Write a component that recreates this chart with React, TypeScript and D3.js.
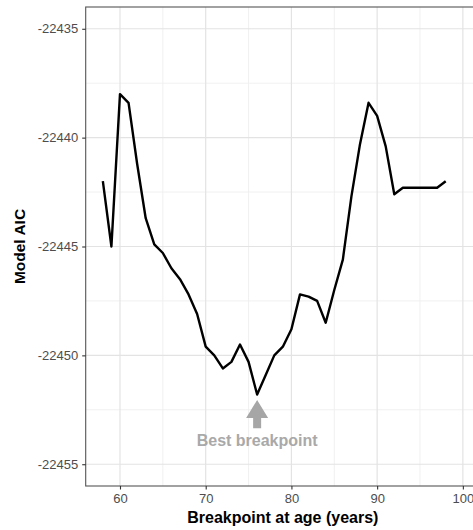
import React, { useRef, useEffect } from 'react';
import * as d3 from 'd3';

// Breakpoint ages tested and the model AIC at each one
const AGES = [
  58, 59, 60, 61, 62, 63, 64, 65, 66, 67, 68, 69, 70, 71, 72, 73, 74, 75, 76, 77,
  78, 79, 80, 81, 82, 83, 84, 85, 86, 87, 88, 89, 90, 91, 92, 93, 94, 95, 96, 97, 98,
];
const AIC = [
  -22442.0, -22445.0, -22438.0, -22438.4, -22441.2, -22443.7, -22444.9, -22445.3,
  -22446.0, -22446.5, -22447.2, -22448.1, -22449.6, -22450.0, -22450.6, -22450.3,
  -22449.5, -22450.3, -22451.8, -22450.9, -22450.0, -22449.6, -22448.8, -22447.2,
  -22447.3, -22447.5, -22448.5, -22447.0, -22445.6, -22442.7, -22440.3, -22438.4,
  -22439.0, -22440.4, -22442.6, -22442.3, -22442.3, -22442.3, -22442.3, -22442.3,
  -22442.0,
];

const X_TICKS = [60, 70, 80, 90, 100];
const X_MINOR = [65, 75, 85, 95];
const Y_TICKS = [-22435, -22440, -22445, -22450, -22455];
const Y_MINOR = [-22437.5, -22442.5, -22447.5, -22452.5];

// annotation: arrow from (76, -22453.35) up to (76, -22452.05), label below
const BEST_AGE = 76;
const ARROW_FROM = -22453.35;
const ARROW_TO = -22452.05;
const LABEL_AT = -22453.9;

const W = 473;
const H = 530;
const FONT = '"Liberation Sans", Arial, sans-serif';

export default function App() {
  const svgRef = useRef<SVGSVGElement | null>(null);

  useEffect(() => {
    if (!svgRef.current) return;
    const svg = d3.select(svgRef.current);
    svg.selectAll('*').remove();

    const panel = { left: 85.7, top: 7, right: 480, bottom: 486 };
    const x = d3.scaleLinear().domain([56, 102]).range([panel.left, panel.right]);
    const y = d3.scaleLinear().domain([-22456, -22434]).range([panel.bottom, panel.top]);

    // background + grid
    svg.append('rect')
      .attr('x', panel.left).attr('y', panel.top)
      .attr('width', panel.right - panel.left).attr('height', panel.bottom - panel.top)
      .attr('fill', 'white');

    const grid = svg.append('g');
    X_MINOR.forEach(v => {
      grid.append('line')
        .attr('x1', x(v)).attr('x2', x(v)).attr('y1', panel.top).attr('y2', panel.bottom)
        .attr('stroke', '#eeeeee').attr('stroke-width', 0.9);
    });
    Y_MINOR.forEach(v => {
      grid.append('line')
        .attr('x1', panel.left).attr('x2', panel.right).attr('y1', y(v)).attr('y2', y(v))
        .attr('stroke', '#eeeeee').attr('stroke-width', 0.9);
    });
    X_TICKS.forEach(v => {
      grid.append('line')
        .attr('x1', x(v)).attr('x2', x(v)).attr('y1', panel.top).attr('y2', panel.bottom)
        .attr('stroke', '#e3e3e3').attr('stroke-width', 1.2);
    });
    Y_TICKS.forEach(v => {
      grid.append('line')
        .attr('x1', panel.left).attr('x2', panel.right).attr('y1', y(v)).attr('y2', y(v))
        .attr('stroke', '#e3e3e3').attr('stroke-width', 1.2);
    });

    // the AIC curve
    const pts: [number, number][] = AGES.map((a, i) => [a, AIC[i]]);
    const line = d3.line<[number, number]>()
      .x(d => x(d[0]))
      .y(d => y(d[1]));
    svg.append('path')
      .datum(pts)
      .attr('d', line)
      .attr('fill', 'none')
      .attr('stroke', '#000')
      .attr('stroke-width', 2.4)
      .attr('stroke-linejoin', 'round');

    // arrow annotation
    const ax = x(BEST_AGE);
    const tipY = y(ARROW_TO);
    const baseY = y(ARROW_FROM);
    const headLen = 18;
    const headHalf = 11;
    const shaftHalf = 4;
    const arrow = d3.path();
    arrow.moveTo(ax, tipY);
    arrow.lineTo(ax + headHalf, tipY + headLen);
    arrow.lineTo(ax + shaftHalf, tipY + headLen);
    arrow.lineTo(ax + shaftHalf, baseY);
    arrow.lineTo(ax - shaftHalf, baseY);
    arrow.lineTo(ax - shaftHalf, tipY + headLen);
    arrow.lineTo(ax - headHalf, tipY + headLen);
    arrow.closePath();
    svg.append('path').attr('d', arrow.toString()).attr('fill', '#a6a6a6');

    svg.append('text')
      .attr('x', ax)
      .attr('y', y(LABEL_AT))
      .attr('dy', '0.35em')
      .attr('text-anchor', 'middle')
      .style('font-family', FONT)
      .style('font-size', '16px')
      .style('font-weight', 'bold')
      .style('fill', '#a9a9a9')
      .text('Best breakpoint');

    // panel border
    svg.append('rect')
      .attr('x', panel.left).attr('y', panel.top)
      .attr('width', panel.right - panel.left).attr('height', panel.bottom - panel.top)
      .attr('fill', 'none')
      .attr('stroke', '#555')
      .attr('stroke-width', 1.1);

    // axes
    const xAxis = svg.append('g')
      .attr('transform', `translate(0,${panel.bottom})`)
      .call(d3.axisBottom(x).tickValues(X_TICKS).tickSize(3.5).tickPadding(4).tickFormat(d3.format('d')));
    const yAxis = svg.append('g')
      .attr('transform', `translate(${panel.left},0)`)
      .call(d3.axisLeft(y).tickValues(Y_TICKS).tickSize(3.5).tickPadding(4).tickFormat(d => String(d)));

    [xAxis, yAxis].forEach(ax2 => {
      ax2.select('.domain').remove();
      ax2.selectAll('.tick line').attr('stroke', '#333').attr('stroke-width', 1.1);
      ax2.selectAll('.tick text')
        .style('font-family', FONT)
        .style('font-size', '13px')
        .attr('fill', '#4d4d4d');
    });

    // axis titles
    svg.append('text')
      .attr('x', (panel.left + panel.right) / 2)
      .attr('y', 523)
      .attr('text-anchor', 'middle')
      .style('font-family', FONT)
      .style('font-size', '16px')
      .style('font-weight', 'bold')
      .style('fill', '#000')
      .text('Breakpoint at age (years)');

    svg.append('text')
      .attr('transform', `translate(25,${(panel.top + panel.bottom) / 2}) rotate(-90)`)
      .attr('text-anchor', 'middle')
      .style('font-family', FONT)
      .style('font-size', '15.5px')
      .style('font-weight', 'bold')
      .style('fill', '#000')
      .text('Model AIC');
  }, []);

  return (
    <div style={{ position: 'absolute', left: 0, top: 0, width: W, height: H, overflow: 'hidden', background: 'white' }}>
      <svg ref={svgRef} width={W} height={H} style={{ display: 'block' }} />
    </div>
  );
}
